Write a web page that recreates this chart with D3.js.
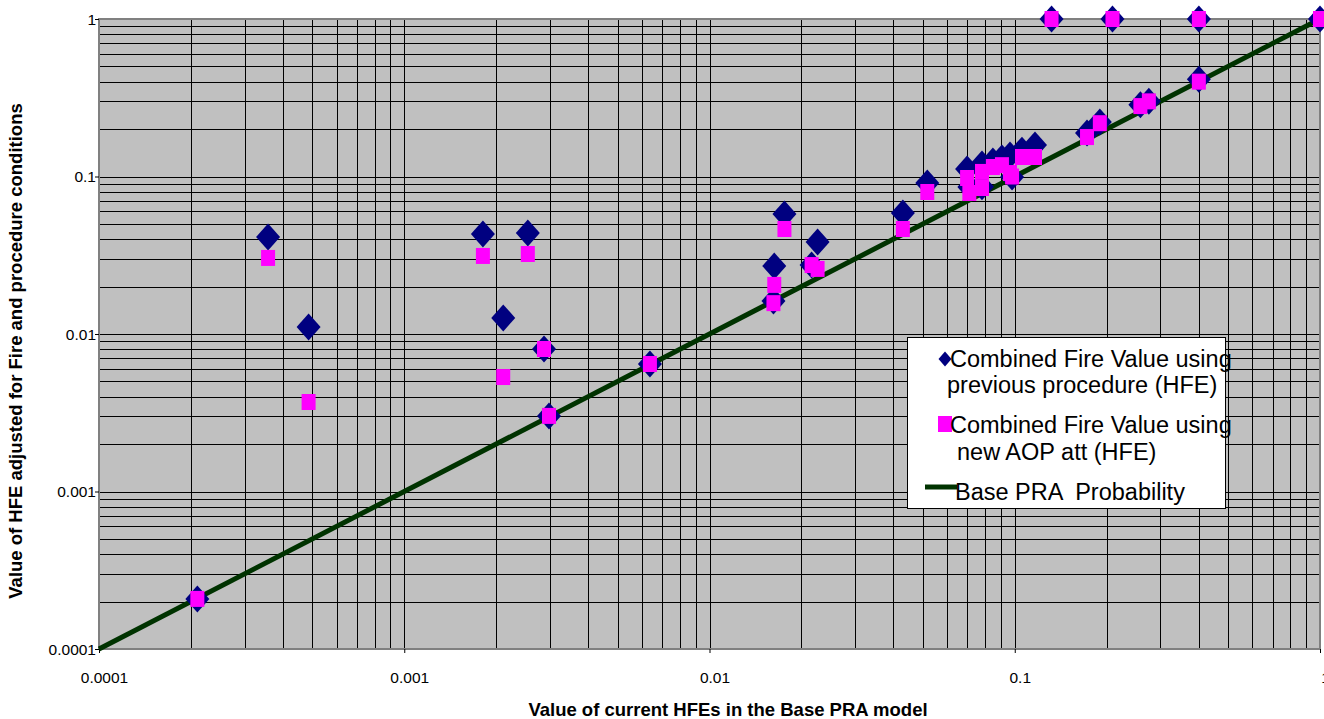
<html>
<head>
<meta charset="utf-8">
<title>HFE comparison</title>
<script src="https://d3js.org/d3.v7.min.js"></script>
<style>
    body { margin: 0; background: #fff; font-family: "Liberation Sans", Arial, sans-serif; }
    .axis-title { font-family: "Liberation Sans", Arial, sans-serif; font-size: 18.5px; font-weight: bold; }
    .legend text { font-family: "Liberation Sans", Arial, sans-serif; font-size: 23.5px; white-space: pre; }
</style>
</head>
<body>
<script>
// values
var baseHfe      = [0.00021, 0.000358, 0.000486, 0.00181, 0.00211, 0.00254, 0.00287, 0.00298, 0.00638,
                    0.0176, 0.0163, 0.0162, 0.0226, 0.0216, 0.043, 0.0517,
                    0.0698, 0.071, 0.0781, 0.0781, 0.0848, 0.0908, 0.0965, 0.098, 0.1056, 0.1165,
                    0.1725, 0.19, 0.258, 0.275, 0.401, 0.132, 0.209, 0.401, 1.0];
var previousProc = [0.000208, 0.0413, 0.01107, 0.0431, 0.01264, 0.0438, 0.00803, 0.00302, 0.00645,
                    0.0578, 0.027, 0.0162, 0.0384, 0.0274, 0.0587, 0.091,
                    0.1116, 0.0858, 0.12, 0.086, 0.1254, 0.131, 0.137, 0.0993, 0.147, 0.1585,
                    0.189, 0.222, 0.285, 0.30, 0.415, 1, 1, 1, 1];
var newAop       = [0.000208, 0.0304, 0.0037, 0.0313, 0.00533, 0.0322, 0.00803, 0.00302, 0.00645,
                    0.0464, 0.0205, 0.0157, 0.0259, 0.0274, 0.0464, 0.0797,
                    0.0978, 0.0786, 0.1069, 0.0845, 0.1149, 0.118, 0.1052, 0.1, 0.133, 0.133,
                    0.178, 0.218, 0.28, 0.30, 0.40, 1, 1, 1, 1];
var baseLine     = [0.0001, 1];
var decadeTicks  = [0.0001, 0.001, 0.01, 0.1, 1];
var tickLabels   = ["0.0001", "0.001", "0.01", "0.1", "1"];
var legendLabels = [["Combined Fire Value using", "previous procedure (HFE)"],
                    ["Combined Fire Value using", "new AOP att (HFE)"],
                    ["Base PRA  Probability"]];

var width = 1324, height = 719;
var plotL = 99, plotR = 1320, plotT = 19, plotB = 649;

var svg = d3.select("body").append("svg")
    .attr("width", width)
    .attr("height", height);

var x = d3.scaleLog().domain([0.0001, 1]).range([plotL, plotR]);
var y = d3.scaleLog().domain([0.0001, 1]).range([plotB, plotT]);

// plot background
svg.append("rect")
    .attr("x", plotL).attr("y", plotT)
    .attr("width", plotR - plotL).attr("height", plotB - plotT)
    .attr("fill", "#c0c0c0");

// grid (major + minor)
var grid = svg.append("g");
grid.selectAll(".gx").data(x.ticks())
    .enter().append("line")
    .attr("x1", function(d) { return Math.round(x(d)) + 0.5; })
    .attr("x2", function(d) { return Math.round(x(d)) + 0.5; })
    .attr("y1", plotT).attr("y2", plotB)
    .attr("stroke", "#000").attr("stroke-width", 1);
grid.selectAll(".gy").data(y.ticks())
    .enter().append("line")
    .attr("y1", function(d) { return Math.round(y(d)) + 0.5; })
    .attr("y2", function(d) { return Math.round(y(d)) + 0.5; })
    .attr("x1", plotL).attr("x2", plotR)
    .attr("stroke", "#000").attr("stroke-width", 1);

// border
svg.append("rect")
    .attr("x", plotL).attr("y", plotT)
    .attr("width", plotR - plotL).attr("height", plotB - plotT)
    .attr("fill", "none").attr("stroke", "#808080").attr("stroke-width", 2);

// axes
var xAxis = d3.axisBottom(x).tickValues(decadeTicks).tickSize(4)
    .tickFormat(function(d, i) { return tickLabels[i]; });
var gx = svg.append("g").attr("transform", "translate(0," + plotB + ")").call(xAxis);
gx.select(".domain").remove();
gx.selectAll(".tick line").attr("stroke", "#000");
gx.selectAll(".tick text").attr("dy", null).attr("y", 34).attr("dx", 5)
    .style("font-family", "'Liberation Sans', Arial, sans-serif").style("font-size", "15.5px").attr("fill", "#000");

var yAxis = d3.axisLeft(y).tickValues(decadeTicks).tickSize(4)
    .tickFormat(function(d, i) { return tickLabels[i]; });
var gy = svg.append("g").attr("transform", "translate(" + plotL + ",0)").call(yAxis);
gy.select(".domain").remove();
gy.selectAll(".tick line").attr("stroke", "#000");
gy.selectAll(".tick text").attr("x", -3).attr("dy", "0.35em")
    .style("font-family", "'Liberation Sans', Arial, sans-serif").style("font-size", "15.5px").attr("fill", "#000");

// axis titles
svg.append("text").attr("class", "axis-title")
    .attr("x", 728).attr("y", 716)
    .attr("text-anchor", "middle")
    .text("Value of current HFEs in the Base PRA model");
svg.append("text").attr("class", "axis-title")
    .attr("transform", "translate(22,351) rotate(-90)")
    .attr("text-anchor", "middle")
    .text("Value of HFE adjusted for Fire and procedure conditions");

// base PRA line
var line = d3.line()
    .x(function(d) { return x(d); })
    .y(function(d) { return y(d); });
svg.append("path")
    .datum(baseLine)
    .attr("d", line)
    .attr("fill", "none")
    .attr("stroke", "#003300")
    .attr("stroke-width", 5);

function diamondPath(w, h) {
    return "M0," + (-h) + "L" + w + ",0L0," + h + "L" + (-w) + ",0Z";
}
function squarePath(w, h) {
    return "M" + (-w) + "," + (-h) + "H" + w + "V" + h + "H" + (-w) + "Z";
}

// previous procedure (diamonds)
svg.append("g").selectAll("path")
    .data(baseHfe)
    .enter().append("path")
    .attr("d", diamondPath(12, 13.5))
    .attr("transform", function(d, i) { return "translate(" + x(d) + "," + y(previousProc[i]) + ")"; })
    .attr("fill", "#000080");

// new AOP (squares)
svg.append("g").selectAll("path")
    .data(baseHfe)
    .enter().append("path")
    .attr("d", squarePath(7, 8))
    .attr("transform", function(d, i) { return "translate(" + x(d) + "," + y(newAop[i]) + ")"; })
    .attr("fill", "#ff00ff");

// legend
var lg = svg.append("g").attr("class", "legend");
lg.append("rect")
    .attr("x", 907.5).attr("y", 337.5)
    .attr("width", 318).attr("height", 171)
    .attr("fill", "#fff").attr("stroke", "#000").attr("stroke-width", 1);

lg.append("path").attr("d", diamondPath(6.5, 7.5))
    .attr("transform", "translate(945,359)").attr("fill", "#000080");
lg.append("text").attr("x", 950).attr("y", 367).text(legendLabels[0][0]);
lg.append("text").attr("x", 947).attr("y", 393).text(legendLabels[0][1]);

lg.append("path").attr("d", squarePath(7, 8))
    .attr("transform", "translate(945,424)").attr("fill", "#ff00ff");
lg.append("text").attr("x", 950).attr("y", 433).text(legendLabels[1][0]);
lg.append("text").attr("x", 957).attr("y", 460).text(legendLabels[1][1]);

lg.append("line")
    .attr("x1", 925).attr("x2", 957).attr("y1", 487).attr("y2", 487)
    .attr("stroke", "#003300").attr("stroke-width", 5);
lg.append("text").attr("x", 955).attr("y", 500).text(legendLabels[2][0]);
</script>
</body>
</html>
